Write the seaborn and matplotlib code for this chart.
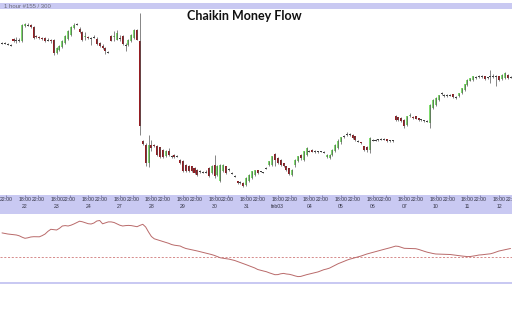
import numpy as np
import matplotlib
matplotlib.use("Agg")
import matplotlib.pyplot as plt
from matplotlib import font_manager
import seaborn as sns

# Hourly bars, one list per field (oldest first)
open_ = [
    157, 157, 156, 155, 161, 160, 160, 159, 174, 175,
    175, 173, 164, 163, 162, 162, 160, 160, 160, 147,
    150, 153, 157, 161, 165, 172, 175.5, 171, 168, 163,
    163, 162, 163, 161.5, 157, 154, 152, 148, 164, 163,
    160.5, 162.5, 164.5, 155.5, 155.3, 159, 162, 170.3, 158.7, 58.7,
    55.3, 37, 55.3, 54.7, 53.7, 52.7, 50.3, 43.7, 49.3, 44,
    45.3, 44, 40.3, 38.7, 35.3, 34, 34, 32, 30.3, 29,
    28, 28.5, 32, 27, 35.3, 25.3, 18.7, 28.7, 33.7, 31,
    27, 24, 18.7, 18, 17, 15.3, 18.7, 22, 25.3, 29.7,
    29, 28, 32, 35.3, 35.3, 46, 42, 40.3, 37, 33.7,
    32, 25.3, 35.3, 38.7, 45, 40.3, 45.3, 49.5, 50, 49,
    49, 48.5, 48, 43, 42, 45.3, 48.7, 52, 58, 63.5,
    65.5, 66, 65.3, 63.7, 59.5, 58, 53.7, 53, 50, 60.5,
    60, 60.5, 61, 61, 61, 59.5, 59.7, 83.7, 82.7, 82,
    80.3, 75.3, 84.5, 83.5, 83.7, 82, 80.5, 79.5, 79.3, 77,
    92, 95.3, 100.3, 106.5, 105, 105.5, 105, 106, 103, 103.7,
    107, 110.3, 115.3, 119.5, 120.3, 123, 123.5, 123.7, 123.7, 122.5,
    124, 123.5, 124, 123.7, 121.3, 122.5, 125.3, 123.5,
]
close_ = [
    157, 156.5, 156, 155, 159, 159.5, 160, 175, 176, 175,
    173, 162, 163, 162, 161, 159, 160, 159, 147, 152,
    154, 159, 164, 169, 173, 175, 176, 168, 160, 164,
    162, 162, 163.5, 156, 154, 152, 149, 148, 159.5, 164,
    167, 162, 156, 155, 160.3, 164.7, 170.3, 160.3, 73.7, 56,
    37, 55.3, 52, 54, 45, 42.7, 42.7, 49.3, 45.3, 43.5,
    42.7, 43.5, 37, 28.7, 28.7, 28.7, 29, 27, 25.3, 28.5,
    28, 28, 23.7, 33.7, 23.7, 33.7, 35.3, 34.7, 27, 30.5,
    27, 23.5, 17, 17.5, 13.7, 22, 25.3, 28.7, 29.7, 27,
    28.5, 27.5, 32.5, 38.7, 43.7, 40, 37, 35.3, 33.7, 30.3,
    26.3, 30.3, 40.3, 43.7, 42, 48.7, 52, 49, 48.5, 48.5,
    48.5, 49, 48, 45, 45.3, 50.3, 55.3, 59, 63, 64,
    66, 65.5, 62, 60.3, 59, 57, 50.3, 50, 62, 60,
    60.5, 60.3, 61.3, 61, 59.3, 59.5, 59.5, 80.3, 80, 78.7,
    73.7, 83.7, 85.5, 82.5, 81.5, 79.7, 80.3, 79.3, 79, 95.3,
    100.3, 102, 104.7, 107, 104.7, 105, 105.3, 102.7, 102.7, 107,
    112, 116, 120.3, 122, 123.7, 122.7, 123.7, 123.5, 121.3, 122.5,
    123.5, 124, 123.5, 120.3, 125, 127, 122, 123,
]
high_ = [
    158, 158, 157, 156, 162, 163, 162, 176, 177, 177,
    176, 174, 165, 164, 163, 163, 162, 161, 161, 153,
    155, 160, 165, 170, 174, 177, 177, 173, 169, 168,
    164, 163, 165, 163, 158, 156, 153, 149, 165, 169,
    170.3, 165.3, 165, 157, 161, 166, 171, 171, 187, 60,
    57, 65.3, 60.3, 56, 55, 53.5, 51, 50, 52, 45,
    46, 45, 41, 40, 36, 35, 34.5, 33, 31, 30,
    29, 30, 33, 35, 45.3, 35, 36, 36, 34.5, 32,
    28, 25, 19.5, 19, 18, 23, 26, 29.5, 30.5, 30.5,
    29.5, 28.5, 33.5, 39.5, 44.5, 47, 43, 41, 37.5, 34.5,
    32.5, 31, 41, 44.5, 46, 49.5, 53, 50.5, 51, 50,
    49.5, 49.5, 49, 46, 46, 51, 56, 61, 63.5, 65,
    68, 67, 66, 64.5, 60, 58.5, 54.5, 54, 63.5, 61.5,
    61.5, 61.5, 62.5, 62, 61.5, 60.5, 60.5, 85, 83.5, 83,
    81, 84.5, 87, 84.5, 84.5, 82.5, 81.5, 80, 80, 96.5,
    101, 103, 105.5, 108, 106, 106.5, 106.5, 106.5, 104, 107.5,
    112.5, 116.5, 121, 122.5, 124.5, 124, 125, 125, 124.5, 123.5,
    130.3, 126, 125.3, 124.5, 126, 128, 126, 124.5,
]
low_ = [
    156, 156, 155, 154, 158, 157, 158, 158, 173, 174,
    172, 161, 162, 161, 160, 158, 159, 157, 145, 146,
    149, 152, 156, 160, 164, 171, 175, 167, 159, 160,
    161, 155, 162, 155, 153, 151, 146, 147, 159, 159,
    160, 158.7, 155, 149, 154, 158, 161, 160, 65.3, 55,
    34, 33, 49, 53, 44, 42, 42, 43, 44.5, 42.5,
    42, 43, 36, 28, 28, 28, 28, 26, 24.5, 27.5,
    27, 27, 23, 26, 22, 24, 18, 28, 26, 29.5,
    26, 23, 16, 16, 13, 14.5, 18, 21, 24.5, 26.5,
    28, 27, 31, 34.5, 34.5, 34, 36, 34.5, 33, 29.5,
    25.5, 24.5, 33, 38, 40, 39.5, 44.5, 48, 48, 47.5,
    47.5, 48, 47, 42, 41, 44.5, 48, 51, 56, 62.5,
    64.5, 64.5, 61, 59.5, 58, 56, 49.5, 48.5, 47.5, 59,
    59, 59, 60, 60, 58.5, 58.5, 58.5, 79.5, 79, 78,
    72.5, 74.5, 83.5, 81.5, 81, 79, 79.5, 78.5, 78, 72,
    91, 94.5, 99.5, 105.5, 103.5, 103.5, 104, 102, 101.5, 103,
    106, 109.5, 114.5, 119, 119.5, 121.5, 122.5, 122.5, 120.5, 121.5,
    117, 122, 113.7, 119, 120.5, 121.5, 121, 122,
]
# Chaikin Money Flow, one value per bar
cmf = [
    0.244, 0.238, 0.233, 0.230, 0.226, 0.223, 0.215, 0.201, 0.190, 0.195,
    0.203, 0.206, 0.206, 0.205, 0.217, 0.233, 0.260, 0.280, 0.277, 0.273,
    0.290, 0.313, 0.317, 0.313, 0.321, 0.333, 0.347, 0.361, 0.355, 0.345,
    0.336, 0.333, 0.343, 0.363, 0.368, 0.335, 0.345, 0.354, 0.354, 0.348,
    0.335, 0.321, 0.313, 0.317, 0.319, 0.317, 0.311, 0.306, 0.319, 0.330,
    0.303, 0.253, 0.208, 0.185, 0.176, 0.166, 0.158, 0.150, 0.140, 0.128,
    0.121, 0.117, 0.113, 0.099, 0.088, 0.082, 0.076, 0.070, 0.063, 0.056,
    0.049, 0.042, 0.034, 0.027, 0.018, 0.006, -0.005, -0.010, -0.014, -0.018,
    -0.025, -0.032, -0.043, -0.053, -0.063, -0.074, -0.085, -0.095, -0.107, -0.122,
    -0.130, -0.137, -0.144, -0.155, -0.164, -0.174, -0.173, -0.165, -0.161, -0.167,
    -0.170, -0.177, -0.186, -0.193, -0.191, -0.182, -0.174, -0.167, -0.160, -0.153,
    -0.146, -0.135, -0.124, -0.117, -0.108, -0.093, -0.078, -0.064, -0.053, -0.041,
    -0.029, -0.019, -0.011, -0.003, 0.004, 0.013, 0.023, 0.033, 0.041, 0.049,
    0.057, 0.065, 0.073, 0.080, 0.087, 0.095, 0.103, 0.112, 0.109, 0.099,
    0.090, 0.089, 0.088, 0.087, 0.086, 0.079, 0.069, 0.060, 0.051, 0.044,
    0.038, 0.033, 0.032, 0.031, 0.031, 0.030, 0.028, 0.024, 0.019, 0.016,
    0.013, 0.010, 0.007, 0.008, 0.012, 0.017, 0.023, 0.025, 0.029, 0.032,
    0.035, 0.043, 0.053, 0.063, 0.069, 0.074, 0.082, 0.088,
]
day_labels = ["22", "23", "24", "27", "28", "29", "30", "31",
              "feb03", "04", "05", "06", "07", "10", "11", "12"]
hour_labels = ["18:00", "22:00"]
title = "Chaikin Money Flow"
header = "1 hour #155 / 300"

sns.set_theme(style="white")
plt.rcParams["font.family"] = ["DejaVu Sans"]

installed = {f.name for f in font_manager.fontManager.ttflist}
small_font = "Liberation Sans Narrow" if "Liberation Sans Narrow" in installed else "Liberation Sans"

W, H = 512, 320
fig = plt.figure(figsize=(W / 100, H / 100), dpi=100)
fig.patch.set_facecolor("white")

LAV = "#c9c9f2"
GREEN = "#7fdc6e"
RED = "#961c22"
DOJI = "#3a3a3a"
WICK = "#555555"

bars_per_day = 11
first_bar = -2
idx = np.arange(len(close_)) + first_bar
xlim = (-2.70, 175.51)


def band(top, bottom):
    return [0, 1 - bottom / H, 1, (bottom - top) / H]


def bare(ax):
    ax.set_xticks([])
    ax.set_yticks([])
    for s in ax.spines.values():
        s.set_visible(False)


# header strip
ax_hdr = fig.add_axes(band(3.3, 9.3))
ax_hdr.set_facecolor(LAV)
bare(ax_hdr)
ax_hdr.text(4 / W, 0.5, header, transform=ax_hdr.transAxes, fontsize=4.3,
            family=[small_font, "DejaVu Sans"], color="#6a6a7a", ha="left", va="center")

# price panel
ax = fig.add_axes(band(9.3, 195))
ax.set_facecolor("white")
bare(ax)
ax.set_xlim(*xlim)
ax.set_ylim(5, 190.7)

o = np.array(open_, float)
c = np.array(close_, float)
h = np.array(high_, float)
l = np.array(low_, float)
diff = c - o
up = diff > 0.6
down = diff < -0.6
flat = ~(up | down)

ax.vlines(idx, l, h, color=WICK, linewidth=0.5)
body_h = np.maximum(np.abs(diff), 1.0)
body_b = np.minimum(o, c) - np.where(flat, 0.5, 0.0)
for mask, col in [(up, GREEN), (down, RED), (flat, DOJI)]:
    ax.bar(idx[mask], body_h[mask], bottom=body_b[mask], width=0.7,
           color=col, linewidth=0)

# time axis band
ax_t = fig.add_axes(band(195, 214))
ax_t.set_facecolor(LAV)
bare(ax_t)
ax_t.set_xlim(*xlim)
ax_t.set_ylim(0, 1)

lab_font = dict(fontsize=3.7, family=[small_font, "DejaVu Sans"], color="#333344",
                ha="center", va="center")
tick_pos, tick_txt = [first_bar + 1.5], ["22:00"]
for k, d in enumerate(day_labels):
    p18 = k * bars_per_day + 6
    tick_pos += [p18, p18 + 4.5]
    tick_txt += hour_labels
    ax_t.text(p18, 0.40, d, **lab_font)
for p, t in zip(tick_pos, tick_txt):
    ax_t.text(p, 0.78, t, **lab_font)
ax_t.vlines(tick_pos, 0.92, 1.0, color="#7070a0", linewidth=0.5)

# money flow panel
ax_c = fig.add_axes(band(214, 282))
ax_c.set_facecolor("white")
bare(ax_c)
ax_c.set_xlim(*xlim)
ax_c.set_ylim(-0.247, 0.433)
ax_c.axhline(0, color="#d07a7a", linewidth=0.6, dashes=(2.5, 2))
sns.lineplot(x=idx, y=cmf, ax=ax_c, color="#b96a6a", linewidth=0.7)
ax_c.set_xlabel("")
ax_c.set_ylabel("")

# bottom separator
ax_b = fig.add_axes(band(282, 284.3))
ax_b.set_facecolor(LAV)
bare(ax_b)

fig.text(244.5 / W, 1 - 16.5 / H, title, family=["Lato", "DejaVu Sans"],
         fontweight="bold", fontsize=9, color="#111111", ha="center", va="center")

fig.savefig("out.png", dpi=100)
